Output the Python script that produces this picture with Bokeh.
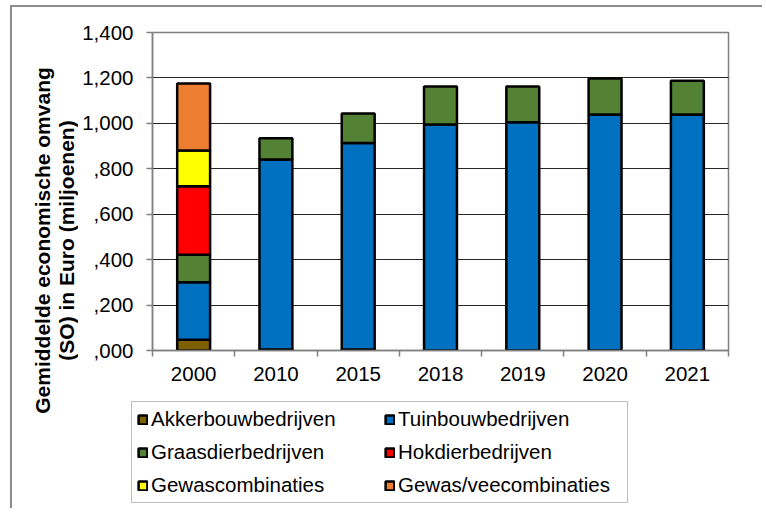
import numpy as np
from bokeh.plotting import figure
from bokeh.layouts import column, row
from bokeh.models import Range1d, FixedTicker, Legend, LegendItem, Label, ColumnDataSource
from bokeh.embed import file_html
from bokeh.resources import INLINE

years = ["2000", "2010", "2015", "2018", "2019", "2020", "2021"]
akkerbouw = [47, 4, 4, 0, 0, 0, 0]
tuinbouw = [253, 837, 910, 995, 1005, 1039, 1039]
graasdier = [121, 93, 129, 167, 157, 159, 149]
hokdier = [302, 0, 0, 0, 0, 0, 0]
gewascomb = [158, 0, 0, 0, 0, 0, 0]
gewasvee = [295, 0, 0, 0, 0, 0, 0]

series_names = ["Akkerbouwbedrijven", "Tuinbouwbedrijven", "Graasdierbedrijven",
                "Hokdierbedrijven", "Gewascombinaties", "Gewas/veecombinaties"]
series_values = [akkerbouw, tuinbouw, graasdier, hokdier, gewascomb, gewasvee]
series_colors = ["#7f6000", "#0070c0", "#548235", "#ff0000", "#ffff00", "#ed7d31"]

y_ticks = [0, 200, 400, 600, 800, 1000, 1200, 1400]
y_tick_labels = [",000", ",200", ",400", ",600", ",800", "1,000", "1,200", "1,400"]
y_title = ["Gemiddelde economische omvang", "(SO) in Euro (miljoenen)"]

FONT = "Liberation Sans"
FS = "20.5px"

# ---- main chart ----
p = figure(width=684, height=388,
           x_range=Range1d(0, len(years)), y_range=Range1d(0, 1400),
           output_backend="svg", toolbar_location=None,
           min_border_left=74, min_border_right=34,
           min_border_top=25, min_border_bottom=45)
p.frame_align = False
p.background_fill_color = "white"
p.border_fill_color = "white"
p.outline_line_color = "#808080"
p.outline_line_width = 1.5

xpos = np.arange(len(years)) + 0.5
bottoms = np.zeros(len(years))
sources = []
for name, vals, col in zip(series_names, series_values, series_colors):
    vals = np.array(vals, dtype=float)
    mask = vals > 0
    src = ColumnDataSource(dict(x=xpos[mask], bottom=bottoms[mask], top=(bottoms + vals)[mask]))
    p.vbar(x="x", bottom="bottom", top="top", width=0.4, source=src,
           fill_color=col, line_color="black", line_width=2.5)
    sources.append(src)
    bottoms = bottoms + vals

p.xaxis.ticker = FixedTicker(ticks=list(xpos), minor_ticks=list(range(len(years) + 1)))
p.xaxis.major_label_overrides = {float(x): y for x, y in zip(xpos, years)}
p.xaxis.major_tick_out = 0
p.xaxis.major_tick_in = 0
p.xaxis.minor_tick_out = 6
p.xaxis.minor_tick_in = 0
p.xaxis.minor_tick_line_color = "#808080"
p.xaxis.minor_tick_line_width = 1.5
p.xaxis.axis_line_color = "#808080"
p.xaxis.axis_line_width = 1.5
p.xaxis.major_label_text_font = FONT
p.xaxis.major_label_text_font_size = FS
p.xaxis.major_label_text_color = "black"
p.xaxis.major_label_standoff = 10

p.yaxis.ticker = FixedTicker(ticks=y_ticks, minor_ticks=[])
p.yaxis.major_label_overrides = {t: l for t, l in zip(y_ticks, y_tick_labels)}
p.yaxis.major_tick_out = 6
p.yaxis.major_tick_in = 0
p.yaxis.major_tick_line_color = "#808080"
p.yaxis.major_tick_line_width = 1.5
p.yaxis.axis_line_color = "#808080"
p.yaxis.axis_line_width = 1.5
p.yaxis.major_label_text_font = FONT
p.yaxis.major_label_text_font_size = FS
p.yaxis.major_label_text_color = "black"
p.yaxis.major_label_standoff = 13

p.xgrid.visible = False
p.ygrid.ticker = FixedTicker(ticks=y_ticks)
p.ygrid.grid_line_color = "#000000"
p.ygrid.grid_line_alpha = 0.85
p.ygrid.grid_line_width = 1

# ---- y-axis title panel ----
tfig = figure(width=66, height=501, x_range=Range1d(0, 1), y_range=Range1d(0, 1),
              output_backend="svg", toolbar_location=None,
              x_axis_type=None, y_axis_type=None,
              min_border_left=0, min_border_right=0, min_border_top=0, min_border_bottom=0)
tfig.frame_align = False
tfig.outline_line_color = None
tfig.xgrid.visible = False
tfig.ygrid.visible = False
for txt, xoff in zip(y_title, [30, 54]):
    tfig.add_layout(Label(x=xoff, y=268, x_units="screen", y_units="screen", text=txt,
                          angle=np.pi / 2, text_align="center", text_baseline="middle",
                          text_font=FONT, text_font_size="21px", text_font_style="bold",
                          text_color="black"))

# ---- legend panel ----
p2 = figure(width=684, height=113, x_range=Range1d(0, 1), y_range=Range1d(0, 1),
            output_backend="svg", toolbar_location=None,
            x_axis_type=None, y_axis_type=None,
            min_border_left=0, min_border_right=0, min_border_top=0, min_border_bottom=0)
p2.frame_align = False
p2.outline_line_color = None
p2.xgrid.visible = False
p2.ygrid.visible = False
proxies = []
for src, col in zip(sources, series_colors):
    proxies.append(p2.vbar(x="x", bottom="bottom", top="top", width=0.4, source=src,
                           fill_color=col, line_color="black", line_width=2.5, visible=False))

order = [0, 2, 4, 1, 3, 5]  # column-major fill -> two columns as in the reference
items = [LegendItem(label=series_names[i], renderers=[proxies[i]]) for i in order]
legend = Legend(items=items, ncols=2, location=(53, 5),
                label_text_font=FONT, label_text_font_size=FS, label_text_color="black",
                border_line_color="#808080", border_line_width=1.5,
                background_fill_color="white", background_fill_alpha=1,
                padding=5, margin=0, spacing=9, label_height=24,
                glyph_width=11, glyph_height=11, label_standoff=3, label_width=224)
p2.add_layout(legend)

layout = row(tfig, column(p, p2, spacing=0), spacing=0, margin=(5, 0, 0, 10),
             styles={"border-top": "2px solid #8c8c8c", "border-left": "2px solid #8c8c8c"})

open("out.html", "w").write(file_html(layout, INLINE))
